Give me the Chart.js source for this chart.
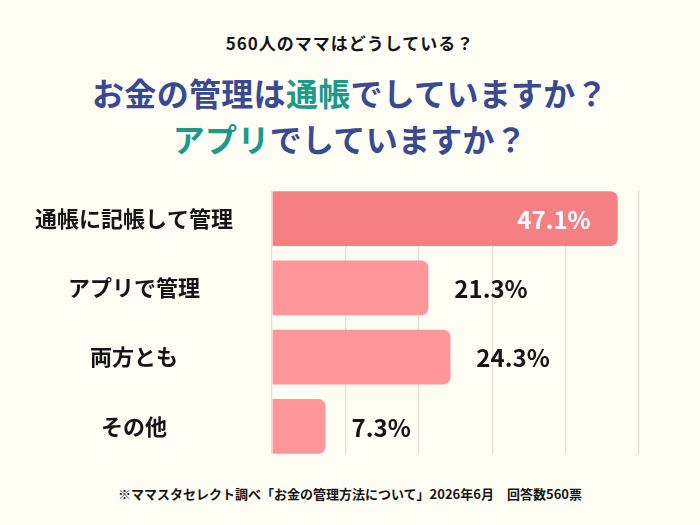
<!DOCTYPE html>
<html lang="ja">
<head>
<meta charset="utf-8">
<title>お金の管理方法</title>
<script src="https://cdn.jsdelivr.net/npm/chart.js@4.4.1/dist/chart.umd.min.js"></script>
<style>
  html, body { margin: 0; padding: 0; }
  body {
    width: 700px; height: 525px; overflow: hidden; position: relative;
    background: #fefdf4;
    font-family: 'Noto Sans CJK JP', 'Noto Sans', sans-serif;
    color: #151515;
  }
  .sub {
    position: absolute; left: 0; top: 31px; width: 700px;
    text-align: center; font-size: 17px; font-weight: bold; line-height: 24px;
    letter-spacing: 1px;
  }
  .title {
    position: absolute; left: 0; width: 700px;
    text-align: center; font-size: 32px; font-weight: bold; line-height: 46px;
    color: #3a4a92; letter-spacing: 0.3px;
  }
  .title .hl { color: #1b998b; }
  .foot {
    position: absolute; left: 0; top: 484px; width: 700px;
    text-align: center; font-size: 13px; font-weight: bold; line-height: 20px;
  }
  #wrap { position: absolute; left: 0; top: 175px; width: 700px; height: 295px; }
</style>
</head>
<body>
<div class="sub">560人のママはどうしている？</div>
<div class="title" style="top:69px">お金の管理は<span class="hl">通帳</span>でしていますか？</div>
<div class="title" style="top:115px"><span class="hl">アプリ</span>でしていますか？</div>
<div id="wrap"><canvas id="chart"></canvas></div>
<div class="foot">※ママスタセレクト調べ「お金の管理方法について」2026年6月　回答数560票</div>

<script>
// data
const categories = ['通帳に記帳して管理', 'アプリで管理', '両方とも', 'その他'];
const shares = [47.1, 21.3, 24.3, 7.3];

const BAR_TOP = '#f58084';
const BAR_REST = '#ff9699';

Chart.defaults.font.family = "'Noto Sans CJK JP', 'Noto Sans', sans-serif";

// keep vertical grid lines within the span of the bars
const clipGrid = {
    id: 'clipGrid',
    beforeDraw(chart) {
        const bars = chart.getDatasetMeta(0).data;
        if (!bars.length) return;
        const a = chart.chartArea;
        const top = bars[0].y - bars[0].height / 2;
        const last = bars[bars.length - 1];
        const bottom = last.y + last.height / 2;
        const ctx = chart.ctx;
        ctx.save();
        ctx.beginPath();
        ctx.rect(0, 0, a.left - 2, chart.height);
        ctx.rect(a.left - 2, top, chart.width - a.left + 2, bottom - top);
        ctx.clip();
    },
    beforeDatasetsDraw(chart) {
        chart.ctx.restore();
    }
};

// percentage labels
const valueLabels = {
    id: 'valueLabels',
    afterDatasetsDraw(chart) {
        const ctx = chart.ctx;
        const meta = chart.getDatasetMeta(0);
        ctx.save();
        ctx.font = "bold 24px 'Noto Sans CJK JP', 'Noto Sans', sans-serif";
        ctx.textBaseline = 'middle';
        meta.data.forEach((bar, i) => {
            const txt = shares[i].toFixed(1) + '%';
            if (i === 0) {
                ctx.fillStyle = '#ffffff';
                ctx.textAlign = 'right';
                ctx.fillText(txt, bar.x - 27, bar.y + 1);
            } else {
                ctx.fillStyle = '#151515';
                ctx.textAlign = 'left';
                ctx.fillText(txt, bar.x + 26, bar.y + 1);
            }
        });
        ctx.restore();
    }
};

new Chart(document.getElementById('chart'), {
    type: 'bar',
    data: {
        labels: categories,
        datasets: [{
            data: shares,
            backgroundColor: shares.map((v, i) => i === 0 ? BAR_TOP : BAR_REST),
            borderRadius: 7,
            borderSkipped: 'start',
            categoryPercentage: 1,
            barPercentage: 0.79,
        }]
    },
    options: {
        indexAxis: 'y',
        responsive: true,
        maintainAspectRatio: false,
        animation: false,
        layout: { padding: { top: 9, bottom: 9, right: 61, left: 0 } },
        plugins: {
            legend: { display: false },
            tooltip: { enabled: false }
        },
        scales: {
            x: {
                min: 0,
                max: 50,
                ticks: { display: false, stepSize: 10 },
                grid: { color: '#e2dfd4', lineWidth: 1.2, drawTicks: false },
                border: { display: false },
                afterFit(scale) { scale.height = 0; }
            },
            y: {
                ticks: {
                    color: '#151515',
                    font: { size: 22, weight: 'bold' },
                    crossAlign: 'center',
                    padding: 39
                },
                grid: { display: false, drawTicks: false },
                border: { display: false },
                afterFit(scale) {
                    scale.width = 272;
                    scale.paddingTop = 0;
                    scale.paddingBottom = 0;
                }
            }
        }
    },
    plugins: [clipGrid, valueLabels]
});
</script>
</body>
</html>
